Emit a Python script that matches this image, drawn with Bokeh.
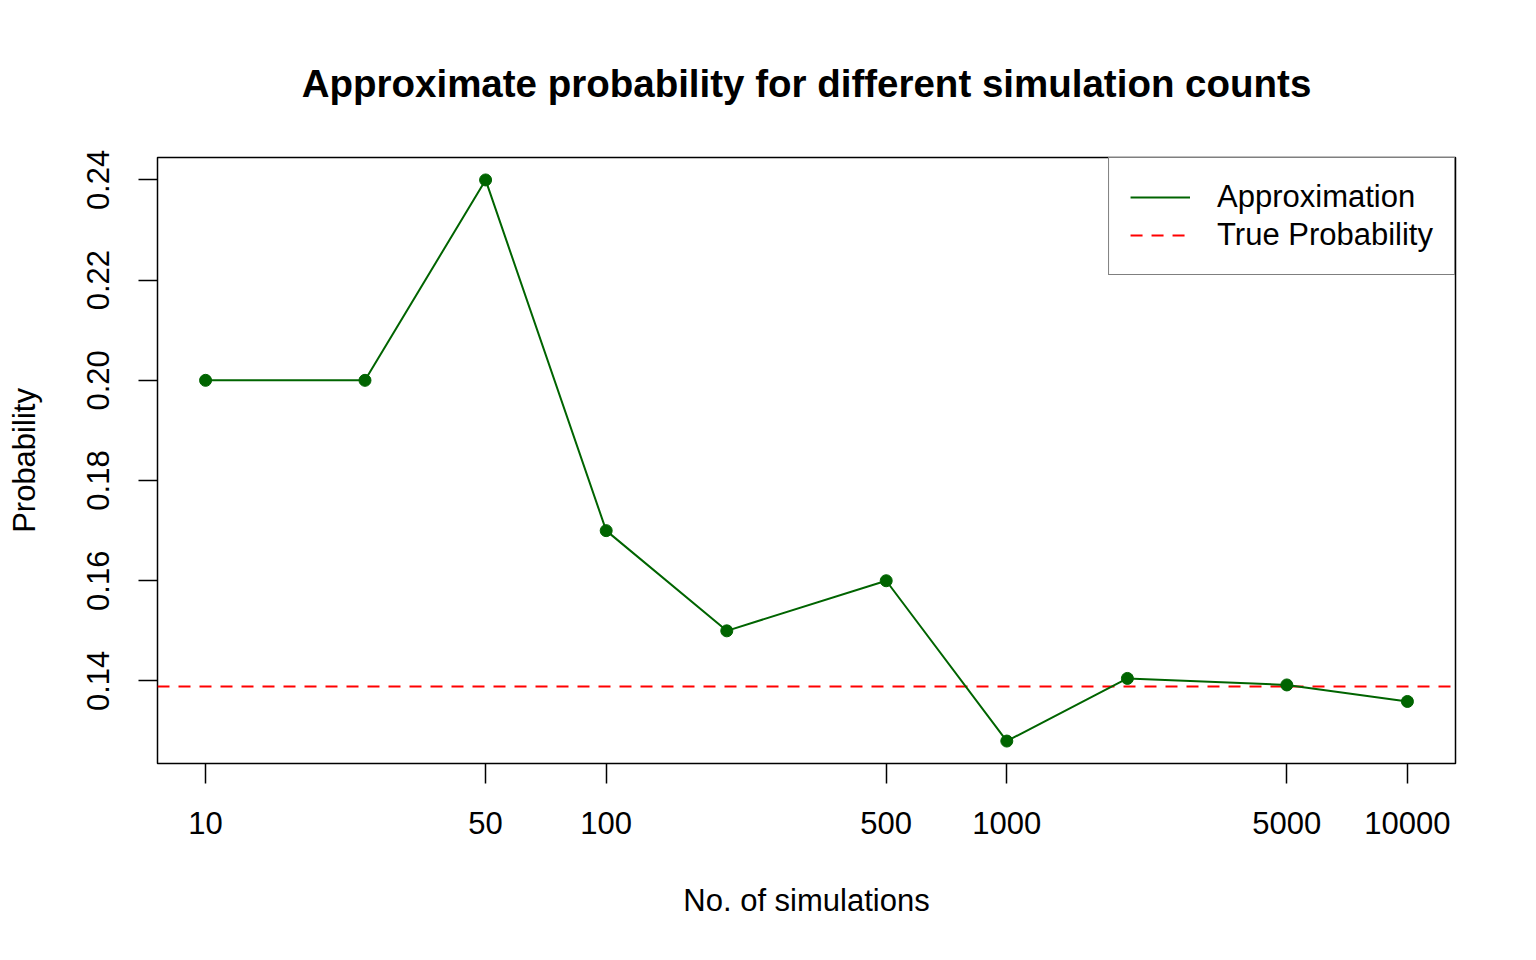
from bokeh.plotting import figure
from bokeh.models import (Range1d, FixedTicker, NumeralTickFormatter,
                          Legend, LegendItem, ColumnDataSource)
from bokeh.embed import file_html
from bokeh.resources import INLINE
import math

# ---- data ----
n_sims = [10, 25, 50, 100, 200, 500, 1000, 2000, 5000, 10000]
approx_prob = [0.20, 0.20, 0.24, 0.17, 0.15, 0.16, 0.128, 0.1405, 0.1392, 0.1359]
true_prob = 5 / 36
x_ticks = [10, 50, 100, 500, 1000, 5000, 10000]
y_ticks = [0.14, 0.16, 0.18, 0.20, 0.22, 0.24]

FONT = "Liberation Sans"
GREEN = "#006400"
RED = "#FF0000"

# R-style 4% range extension
lx0, lx1 = math.log10(min(n_sims)), math.log10(max(n_sims))
dx = (lx1 - lx0) * 0.04
y0, y1 = min(approx_prob), max(approx_prob)
dy = (y1 - y0) * 0.04
xr = Range1d(10 ** (lx0 - dx), 10 ** (lx1 + dx))
yr = Range1d(y0 - dy, y1 + dy)

p = figure(width=1520, height=944, x_axis_type="log",
           x_range=xr, y_range=yr,
           output_backend="svg", toolbar_location=None,
           min_border_left=157, min_border_right=65,
           min_border_top=157, min_border_bottom=181)

p.background_fill_color = "white"
p.border_fill_color = "white"
p.outline_line_color = "black"
p.outline_line_width = 1.5
p.xgrid.visible = False
p.ygrid.visible = False

# title
p.title.text = "Approximate probability for different simulation counts"
p.title.text_font = FONT
p.title.text_font_size = "38.5px"
p.title.text_font_style = "bold"
p.title.text_color = "black"
p.title.align = "center"
p.title.standoff = 106

# axes
for ax in (p.xaxis[0], p.yaxis[0]):
    ax.axis_line_color = None
    ax.major_tick_in = 0
    ax.minor_tick_line_color = None
    ax.major_tick_line_width = 1.5
    ax.major_tick_line_color = "black"
    ax.major_label_text_font = FONT
    ax.major_label_text_font_size = "31px"
    ax.major_label_text_color = "black"
    ax.axis_label_text_font = FONT
    ax.axis_label_text_font_size = "31px"
    ax.axis_label_text_font_style = "normal"
    ax.axis_label_text_color = "black"

p.xaxis.ticker = FixedTicker(ticks=x_ticks)
p.xaxis.formatter = NumeralTickFormatter(format="0")
p.xaxis.major_tick_out = 20
p.xaxis.major_label_standoff = 28
p.xaxis.axis_label = "No. of simulations"
p.xaxis.axis_label_standoff = 46

p.yaxis.ticker = FixedTicker(ticks=y_ticks)
p.yaxis.formatter = NumeralTickFormatter(format="0.00")
p.yaxis.major_tick_out = 19
p.yaxis.major_label_orientation = "vertical"
p.yaxis.major_label_standoff = 29
p.yaxis.axis_label = "Probability"
p.yaxis.axis_label_standoff = 43

# true probability line across the full x range (like abline)
true_r = p.line(x=[xr.start, xr.end], y=[true_prob, true_prob],
                line_color=RED, line_width=2, line_dash="12 9")

src = ColumnDataSource(dict(x=n_sims, y=approx_prob))
line_r = p.line("x", "y", source=src, line_color=GREEN, line_width=2)
p.scatter("x", "y", source=src, size=12, fill_color=GREEN, line_color=GREEN)

legend = Legend(items=[LegendItem(label="Approximation", renderers=[line_r]),
                       LegendItem(label="True Probability", renderers=[true_r])],
                location="top_right", margin=0, padding=21, spacing=2,
                glyph_width=60, glyph_height=30, label_height=30,
                label_standoff=27,
                label_text_font=FONT, label_text_font_size="31px",
                label_text_color="black",
                border_line_color="black", border_line_width=1.5,
                background_fill_alpha=1.0)
p.add_layout(legend)

open("out.html", "w").write(file_html(p, INLINE))
